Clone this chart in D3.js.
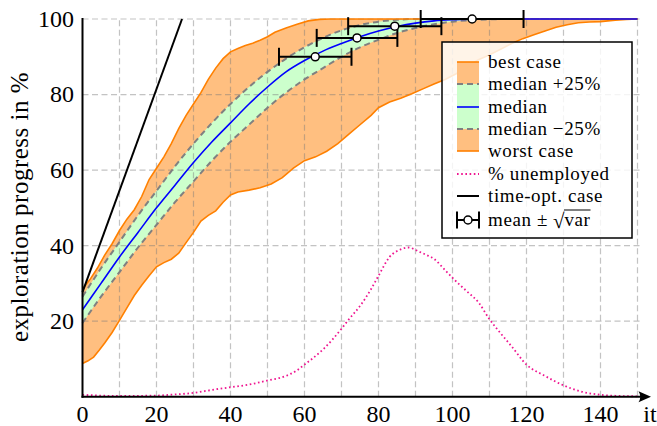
<!DOCTYPE html>
<html>
<head>
<meta charset="utf-8">
<script src="https://cdn.jsdelivr.net/npm/d3@7"></script>
<style>
  body { margin: 0; background: #fff; }
  svg text { font-family: "Liberation Serif", "Times New Roman", serif; fill: #000; }
</style>
</head>
<body>
<svg id="chart" width="657" height="426"></svg>
<script>
// iteration axis ticks
const xTicks = [0, 20, 40, 60, 80, 100, 120, 140];
const yTicks = [20, 40, 60, 80, 100];

// best case (upper orange boundary)
const bestX = [0, 2, 4, 6, 8, 10, 12, 14, 16, 18, 20, 22, 24, 26, 28, 30, 32, 34, 36, 38, 40, 42, 44, 46, 48, 50, 52, 55, 58, 61, 64, 67, 150];
const bestY = [28.5, 31, 34, 37.5, 40.5, 44, 47, 49.5, 53, 57.5, 60.5, 63.5, 67, 71, 74.5, 77.5, 80.5, 84, 87, 89.5, 91.3, 92.2, 93, 93.6, 94.4, 95.3, 96.5, 97.6, 98.6, 99.5, 99.9, 100, 100];

// worst case (lower orange boundary)
const worstX = [0, 1.5, 3, 4.5, 6, 8, 10, 12, 14, 16, 18, 20, 22, 24, 26, 28, 30, 32, 34, 36, 38, 40, 42, 45, 48, 51, 54, 57, 60, 63, 66, 69, 72, 75, 78, 80, 83, 86, 89, 92, 95, 98, 101, 104, 107, 110, 113, 116, 119, 122, 125, 128, 131, 134, 137, 140, 144, 147, 150];
const worstY = [8.8, 9.5, 10.5, 12.3, 14.2, 17, 20.2, 23.5, 26.8, 29.5, 32, 34.4, 35.5, 36.4, 38, 40.8, 43.5, 46.5, 48, 49.2, 51.5, 53.4, 54.2, 54.7, 55.3, 56.3, 58, 60.5, 62.5, 63.5, 65, 67, 69.5, 72, 74.5, 76.5, 78, 79, 80.2, 81.5, 82.8, 84, 85.5, 87.3, 89.2, 90.5, 92, 93.5, 94.8, 95.8, 96.8, 97.8, 98.5, 99, 99.2, 99.3, 99.7, 99.9, 100];

// median and +/-25% band
const bandX = [0, 5, 10, 15, 20, 25, 30, 35, 40, 45, 50, 55, 60, 65, 70, 75, 80, 85, 90, 95, 100, 105, 110, 115, 120, 150];
const median = [23, 30, 37, 43.5, 50, 56, 62, 67.5, 72.5, 77.5, 82, 86, 89, 91.5, 93.5, 95.3, 96.8, 98, 98.9, 99.5, 99.8, 99.95, 100, 100, 100, 100];
const upper = [26.5, 34, 41, 48, 54.5, 61, 67, 72.5, 77.5, 82, 86, 89.5, 92.5, 95, 97, 98.4, 99.3, 99.8, 100, 100, 100, 100, 100, 100, 100, 100];
const lower = [19.5, 26.5, 33, 39.5, 45.5, 51.5, 57, 62.5, 67.5, 72, 76.5, 80.5, 84, 87, 90, 92.5, 94.5, 96.3, 97.6, 98.6, 99.3, 99.7, 99.9, 100, 100, 100];

// share of unemployed agents
const unempX = [0, 10, 20, 25, 30, 35, 40, 45, 50, 55, 58, 60, 62, 65, 70, 72, 75, 78, 80, 83, 86, 88, 91, 93, 95, 98, 101, 104, 107, 110, 113, 116, 120, 125, 130, 135, 140, 145, 150];
const unempY = [0.5, 0.2, 0.3, 0.6, 1, 1.8, 2.5, 3.2, 4.3, 5.5, 7, 8.5, 10, 12.5, 18, 20.5, 24, 28.5, 32, 37, 39, 39.5, 38.4, 37.5, 36.5, 33.5, 30.5, 27.8, 25, 20.5, 16.8, 13.3, 8.5, 5.5, 3, 1.3, 0.5, 0.2, 0.1];

// time-optimal case
const timeX = [0, 26.9];
const timeY = [27.7, 100];

// mean +/- sqrt(var)
const meanX = [62.9, 74.2, 84.4, 105.3];
const meanY = [90, 95, 98.1, 100];
const meanSd = [9.8, 10.9, 12.6, 13.9];

const legendLabels = ["best case", "median +25%", "median", "median \u221225%", "worst case", "% unemployed", "time-opt. case"];

const orange = "#ff8000";
const orangeFill = "#ffbf80";
const greenFill = "#ccffcc";
const pink = "#ef1590";

const svg = d3.select("#chart");
const x = d3.scaleLinear().domain([0, 150]).range([82.5, 637.5]);
const y = d3.scaleLinear().domain([0, 100]).range([396.7, 19]);

const zip = (xs, ys) => xs.map((v, i) => [v, ys[i]]);
const line = d3.line().x(d => x(d[0])).y(d => y(d[1]));
const smooth = d3.line().x(d => x(d[0])).y(d => y(d[1])).curve(d3.curveMonotoneX);

// orange region between best and worst case
const region = zip(bestX, bestY).concat(zip(worstX, worstY).reverse());
svg.append("path")
  .attr("d", line(region) + "Z")
  .attr("fill", orangeFill);

// green band
const band = d3.area()
  .x((d, i) => x(bandX[i]))
  .y0((d, i) => y(lower[i]))
  .y1((d, i) => y(upper[i]))
  .curve(d3.curveMonotoneX);
svg.append("path")
  .attr("d", band(bandX))
  .attr("fill", greenFill);

// grid on top of the fills
const grid = svg.append("g")
  .attr("stroke", "#7a7a7a")
  .attr("stroke-opacity", 0.45)
  .attr("stroke-width", 1.2)
  .attr("stroke-dasharray", "6,3.5");
grid.selectAll(".vgrid")
  .data(d3.range(10, 151, 10))
  .enter().append("line")
  .attr("x1", d => x(d)).attr("x2", d => x(d))
  .attr("y1", y(0)).attr("y2", y(100));
grid.selectAll(".hgrid")
  .data(yTicks)
  .enter().append("line")
  .attr("x1", x(0)).attr("x2", x(150) + 3.5)
  .attr("y1", d => y(d)).attr("y2", d => y(d));

// dashed +/-25% lines
[upper, lower].forEach(vals => {
  svg.append("path")
    .attr("d", smooth(zip(bandX, vals)))
    .attr("fill", "none")
    .attr("stroke", "#808080")
    .attr("stroke-width", 2)
    .attr("stroke-dasharray", "6,4");
});

// best / worst lines
[[bestX, bestY], [worstX, worstY]].forEach(([xs, ys]) => {
  svg.append("path")
    .attr("d", line(zip(xs, ys)))
    .attr("fill", "none")
    .attr("stroke", orange)
    .attr("stroke-width", 1.6);
});

// median
svg.append("path")
  .attr("d", smooth(zip(bandX, median)))
  .attr("fill", "none")
  .attr("stroke", "#0000ff")
  .attr("stroke-width", 1.6);

// unemployed
svg.append("path")
  .attr("d", smooth(zip(unempX, unempY)))
  .attr("fill", "none")
  .attr("stroke", pink)
  .attr("stroke-width", 1.8)
  .attr("stroke-dasharray", "1.6,2.6");

// time optimal
svg.append("path")
  .attr("d", line(zip(timeX, timeY)))
  .attr("fill", "none")
  .attr("stroke", "#000")
  .attr("stroke-width", 2);

// error bars
const errs = svg.append("g");
meanX.forEach((m, i) => {
  const g = errs.append("g").attr("stroke", "#000").attr("stroke-width", 2);
  const lo = x(m - meanSd[i]), hi = x(m + meanSd[i]), yy = y(meanY[i]);
  g.append("line").attr("x1", lo).attr("x2", hi).attr("y1", yy).attr("y2", yy);
  g.append("line").attr("x1", lo).attr("x2", lo).attr("y1", yy - 9).attr("y2", yy + 9);
  g.append("line").attr("x1", hi).attr("x2", hi).attr("y1", yy - 9).attr("y2", yy + 9);
  g.append("circle").attr("cx", x(m)).attr("cy", yy).attr("r", 4)
    .attr("fill", "#fff").attr("stroke-width", 1.5);
});

// axes
svg.append("line")
  .attr("x1", x(0)).attr("x2", x(0))
  .attr("y1", y(0) + 1).attr("y2", y(100) - 1)
  .attr("stroke", "#000").attr("stroke-width", 2);
svg.append("line")
  .attr("x1", x(0) - 1).attr("x2", 646)
  .attr("y1", y(0)).attr("y2", y(0))
  .attr("stroke", "#000").attr("stroke-width", 2);
svg.append("path")
  .attr("d", `M651,${y(0)} L638.5,${y(0) - 5.5} Q642,${y(0)} 638.5,${y(0) + 5.5} Z`)
  .attr("fill", "#000");

svg.selectAll(".xtick")
  .data(xTicks)
  .enter().append("text")
  .attr("x", d => x(d))
  .attr("y", 421.5)
  .attr("text-anchor", "middle")
  .style("font-size", "24px")
  .text(d => d);
svg.append("text")
  .attr("x", 650).attr("y", 421.5)
  .attr("text-anchor", "middle")
  .style("font-size", "24px")
  .text("it");

svg.selectAll(".ytick")
  .data(yTicks)
  .enter().append("text")
  .attr("x", 74)
  .attr("y", d => y(d))
  .attr("dy", "0.33em")
  .attr("text-anchor", "end")
  .style("font-size", "24px")
  .text(d => d);

svg.append("text")
  .attr("transform", "translate(28,207) rotate(-90)")
  .attr("text-anchor", "middle")
  .style("font-size", "25px")
  .style("letter-spacing", "0.5px")
  .text("exploration progress in %");

// legend
const lg = svg.append("g");
lg.append("rect")
  .attr("x", 442).attr("y", 42).attr("width", 190).attr("height", 196)
  .attr("fill", "#fff").attr("fill-opacity", 0.82)
  .attr("stroke", "#000").attr("stroke-width", 1.5);

const rows = [62, 84, 107, 129, 151, 174, 196, 220];
const sx0 = 457, sx1 = 479;
lg.append("rect").attr("x", sx0).attr("y", rows[0]).attr("width", sx1 - sx0)
  .attr("height", rows[4] - rows[0]).attr("fill", orangeFill);
lg.append("rect").attr("x", sx0).attr("y", rows[1]).attr("width", sx1 - sx0)
  .attr("height", rows[3] - rows[1]).attr("fill", greenFill);
const swatch = (row, stroke, width, dash) => {
  lg.append("line")
    .attr("x1", sx0).attr("x2", sx1)
    .attr("y1", rows[row]).attr("y2", rows[row])
    .attr("stroke", stroke).attr("stroke-width", width)
    .attr("stroke-dasharray", dash);
};
swatch(0, orange, 1.6, null);
swatch(1, "#808080", 2, "6,4");
swatch(2, "#0000ff", 1.6, null);
swatch(3, "#808080", 2, "6,4");
swatch(4, orange, 1.6, null);
swatch(5, pink, 1.8, "1.6,2.6");
swatch(6, "#000", 2, null);

// mean +/- sqrt(var) symbol
const ey = rows[7];
const eg = lg.append("g").attr("stroke", "#000").attr("stroke-width", 2);
eg.append("line").attr("x1", sx0).attr("x2", sx1).attr("y1", ey).attr("y2", ey);
eg.append("line").attr("x1", sx0).attr("x2", sx0).attr("y1", ey - 8.5).attr("y2", ey + 8.5);
eg.append("line").attr("x1", sx1).attr("x2", sx1).attr("y1", ey - 8.5).attr("y2", ey + 8.5);
eg.append("circle").attr("cx", 468).attr("cy", ey).attr("r", 4)
  .attr("fill", "#fff").attr("stroke-width", 1.5);

const legendFont = "19px";
lg.selectAll(".ltext")
  .data(legendLabels)
  .enter().append("text")
  .attr("x", 488)
  .attr("y", (d, i) => rows[i])
  .attr("dy", "0.32em")
  .style("font-size", legendFont)
  .style("letter-spacing", "0.6px")
  .text(d => d);

const t1 = lg.append("text")
  .attr("x", 488).attr("y", ey).attr("dy", "0.32em")
  .style("font-size", legendFont)
  .style("letter-spacing", "0.6px")
  .text("mean \u00b1");
const w1 = t1.node().getComputedTextLength();
const sq = lg.append("text")
  .attr("x", 488 + w1 + 5).attr("y", ey).attr("dy", "0.36em")
  .style("font-size", "21px")
  .text("\u221a");
const w2 = sq.node().getComputedTextLength();
const vx = 488 + w1 + 5 + w2;
const t3 = lg.append("text")
  .attr("x", vx).attr("y", ey).attr("dy", "0.32em")
  .style("font-size", legendFont)
  .style("letter-spacing", "0.6px")
  .text("var");
const w3 = t3.node().getComputedTextLength();
lg.append("line")
  .attr("x1", vx - 0.5).attr("x2", vx + w3)
  .attr("y1", ey - 10).attr("y2", ey - 10)
  .attr("stroke", "#000").attr("stroke-width", 1);
</script>
</body>
</html>
